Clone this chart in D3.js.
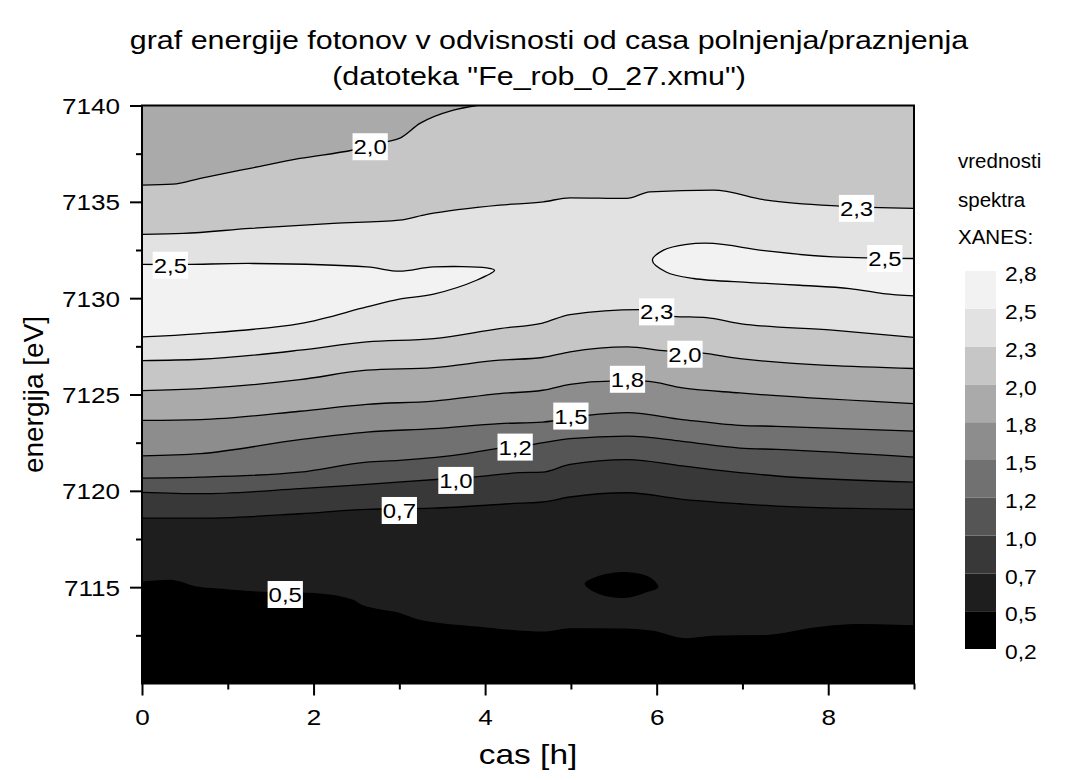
<!DOCTYPE html>
<html>
<head>
<meta charset="utf-8">
<script src="https://cdn.jsdelivr.net/npm/d3@7"></script>
<style>
body { margin: 0; background: #fff; }
text { font-family: "Liberation Sans", Arial, sans-serif; fill: #000; }
</style>
</head>
<body>
<svg width="1073" height="780"></svg>
<script>
// contour levels (legend) and their shades
var levels = [0.2, 0.46, 0.72, 0.98, 1.24, 1.5, 1.76, 2.02, 2.28, 2.54, 2.8];
var levelLabels = ["0,2", "0,5", "0,7", "1,0", "1,2", "1,5", "1,8", "2,0", "2,3", "2,5", "2,8"];
var shades = ["#000000", "#1e1e1e", "#383838", "#555555", "#717171",
              "#8d8d8d", "#aaaaaa", "#c6c6c6", "#e2e2e2", "#f2f2f2"];

var xTicks = [0, 2, 4, 6, 8],
    xMinor = [1, 3, 5, 7, 9],
    yTicks = [7115, 7120, 7125, 7130, 7135, 7140],
    yMinor = [7112.5, 7117.5, 7122.5, 7127.5, 7132.5, 7137.5];

// contour lines: [cas (h), energija (eV)]
var line046 = [[0,7115.26],[0.33,7115.35],[0.64,7115.0],[0.99,7114.86],[1.34,7114.74],[2.0,7114.66],
  [2.46,7114.31],[2.56,7114.05],[3.01,7113.62],[3.24,7113.27],[3.98,7112.89],[4.68,7112.66],
  [4.99,7112.84],[5.65,7112.82],[5.96,7112.70],[6.33,7112.32],[6.66,7112.45],[7.28,7112.49],
  [7.86,7112.89],[8.33,7113.06],[9,7112.99]];
var line072 = [[0,7118.58],[0.68,7118.58],[1.84,7118.81],[2.62,7119.04],[3.39,7119.10],[4.41,7119.36],
  [4.67,7119.42],[4.99,7119.68],[5.66,7119.90],[6.30,7119.56],[6.97,7119.33],[7.40,7119.21],[9,7119.04]];
var line098 = [[0,7119.92],[0.68,7119.85],[1.84,7120.11],[2.62,7120.34],[3.47,7120.6],[3.85,7120.71],
  [4.41,7120.94],[4.67,7120.97],[4.99,7121.37],[5.66,7121.62],[6.30,7121.29],[6.97,7120.94],
  [7.40,7120.77],[9,7120.45]];
var line124 = [[0,7120.66],[0.68,7120.71],[1.84,7120.97],[2.62,7121.49],[3.0,7121.58],[3.78,7121.93],
  [4.13,7122.19],[4.53,7122.40],[4.99,7122.71],[5.66,7122.84],[6.30,7122.57],[6.97,7122.22],
  [7.40,7122.15],[9,7121.75]];
var line150 = [[0,7121.81],[0.68,7121.93],[1.84,7122.66],[2.62,7123.05],[3.40,7123.23],[4.17,7123.49],
  [4.67,7123.57],[5.19,7123.92],[5.66,7124.06],[6.30,7123.70],[6.97,7123.40],[7.40,7123.35],[9,7123.10]];
var line176 = [[0,7123.66],[0.68,7123.70],[1.84,7124.13],[2.62,7124.49],[3.40,7124.66],[4.17,7125.05],
  [4.67,7125.22],[4.99,7125.53],[5.47,7125.69],[5.86,7125.69],[6.30,7125.34],[6.97,7125.08],[9,7124.53]];
var line202 = [[0,7125.20],[0.68,7125.31],[1.84,7125.77],[2.62,7126.26],[3.40,7126.40],[4.17,7126.78],
  [4.67,7126.92],[4.99,7127.21],[5.66,7127.47],[6.11,7127.26],[6.52,7127.16],[6.97,7126.86],[9,7126.35]];
var line228 = [[0,7126.76],[0.68,7126.83],[1.84,7127.30],[2.62,7127.73],[3.40,7127.90],[4.17,7128.42],
  [4.67,7128.71],[4.99,7129.15],[5.80,7129.41],[6.19,7129.06],[6.58,7128.99],[6.97,7128.68],
  [8.05,7128.34],[9,7127.96]];
var line228up = [[0,7133.31],[0.48,7133.36],[1.26,7133.62],[2.23,7133.88],[3.0,7134.05],[3.32,7134.35],
  [4.17,7134.83],[4.68,7135.0],[4.99,7135.21],[5.65,7135.18],[5.92,7135.52],[6.66,7135.61],
  [7.28,7135.09],[8.13,7134.78],[9,7134.66]];
var line202up = [[0,7135.87],[0.36,7135.92],[0.68,7136.22],[1.26,7136.74],[1.84,7137.25],[2.46,7137.69],
  [2.85,7138.12],[3.0,7138.29],[3.24,7139.07],[3.63,7139.76],[3.90,7140]];
// closed / edge islands
var islandLeft254 = [[0,7127.99],[0.68,7128.16],[1.84,7128.68],[2.62,7129.55],[3.0,7129.95],[3.40,7130.21],
  [3.90,7130.93],[4.11,7131.45],[4.02,7131.57],[3.40,7131.62],[3.0,7131.40],[2.62,7131.62],
  [1.30,7131.80],[0.52,7131.75],[0,7131.75]];
var islandRight254 = [[9,7130.12],[8.64,7130.24],[8.25,7130.50],[7.67,7130.67],[7.09,7130.81],[6.43,7131.02],
  [6.11,7131.36],[5.95,7131.97],[6.08,7132.49],[6.35,7132.79],[6.66,7132.84],[7.28,7132.45],
  [8.06,7132.14],[9,7132.06]];
var islandBlack = [[5.16,7115.18],[5.34,7115.61],[5.67,7115.78],[5.92,7115.52],[6.02,7115.0],
  [5.88,7114.74],[5.65,7114.45],[5.34,7114.62]];

// contour labels
var labelText   = ["2,0", "2,3", "2,5", "2,5", "2,3", "2,0", "1,8", "1,5", "1,2", "1,0", "0,7", "0,5"];
var labelCas    = [2.66, 8.33, 0.33, 8.66, 6.0, 6.33, 5.66, 5.0, 4.35, 3.66, 3.0, 1.67];
var labelEnergy = [7137.86, 7134.66, 7131.71, 7132.06, 7129.29, 7127.09, 7125.79, 7123.88, 7122.27,
                   7120.54, 7118.98, 7114.62];

var svg = d3.select("svg"),
    margin = {top: 105.5, right: 159, bottom: 96.5, left: 142},
    width = 1073 - margin.left - margin.right,
    height = 780 - margin.top - margin.bottom,
    g = svg.append("g").attr("transform", "translate(" + margin.left + "," + margin.top + ")");

var x = d3.scaleLinear().domain([0, 9]).range([0, width]),
    y = d3.scaleLinear().domain([7110, 7140]).range([height, 0]);

// stretched text helper (the original fonts are wider than Arial)
function stext(sel, px, py, str, size, anchor, sx) {
  return sel.append("text")
    .attr("transform", "translate(" + px + "," + py + ") scale(" + sx + ",1)")
    .attr("font-size", size)
    .attr("text-anchor", anchor)
    .text(str);
}

svg.append("clipPath").attr("id", "plotclip")
  .append("rect").attr("width", width).attr("height", height);

var plot = g.append("g").attr("clip-path", "url(#plotclip)");

var above = d3.area()
    .curve(d3.curveMonotoneX)
    .x(function(d) { return x(d[0]); })
    .y0(0)
    .y1(function(d) { return y(d[1]); });

var line = d3.line()
    .curve(d3.curveMonotoneX)
    .x(function(d) { return x(d[0]); })
    .y(function(d) { return y(d[1]); });

var loop = d3.line()
    .curve(d3.curveCatmullRom)
    .x(function(d) { return x(d[0]); })
    .y(function(d) { return y(d[1]); });

var closedLoop = d3.line()
    .curve(d3.curveCatmullRomClosed)
    .x(function(d) { return x(d[0]); })
    .y(function(d) { return y(d[1]); });

plot.append("rect").attr("width", width).attr("height", height).attr("fill", shades[0]);

plot.append("path").attr("d", above(line046)).attr("fill", shades[1]);
plot.append("path").attr("d", closedLoop(islandBlack)).attr("fill", shades[0]);

var lowerLines = [line072, line098, line124, line150, line176, line202, line228];
lowerLines.forEach(function(l, i) {
  plot.append("path").attr("d", above(l)).attr("fill", shades[i + 2]);
});

plot.append("path").attr("d", loop(islandLeft254)).attr("fill", shades[9]);
plot.append("path").attr("d", loop(islandRight254)).attr("fill", shades[9]);

plot.append("path").attr("d", above(line228up)).attr("fill", shades[7]);
plot.append("path").attr("d", above(line202up)).attr("fill", shades[6]);

// contour strokes
var strokes = plot.append("g")
    .attr("fill", "none")
    .attr("stroke", "#000")
    .attr("stroke-width", 1.3);

[line046, line072, line098, line124, line150, line176, line202, line228, line228up, line202up]
  .forEach(function(l) { strokes.append("path").attr("d", line(l)); });
strokes.append("path").attr("d", loop(islandLeft254));
strokes.append("path").attr("d", loop(islandRight254));

// contour labels
labelText.forEach(function(t, i) {
  var lx = x(labelCas[i]), ly = y(labelEnergy[i]);
  var lab = g.append("g");
  var r = lab.append("rect").attr("fill", "#fff");
  var tx = stext(lab, lx, ly + 7.5, t, 21, "middle", 1.14);
  var w = tx.node().getComputedTextLength() * 1.14 + 2;
  r.attr("x", lx - w / 2).attr("y", ly - 13.5).attr("width", w).attr("height", 27);
});

// axes
var yAxis = g.append("g").call(d3.axisLeft(y).tickValues(yTicks).tickSize(12).tickFormat(d3.format("d")));
var yAxisMinor = g.append("g").call(d3.axisLeft(y).tickValues(yMinor).tickSize(6).tickFormat(""));
var xAxis = g.append("g").attr("transform", "translate(0," + height + ")")
    .call(d3.axisBottom(x).tickValues(xTicks).tickSize(12).tickFormat(d3.format("d")));
var xAxisMinor = g.append("g").attr("transform", "translate(0," + height + ")")
    .call(d3.axisBottom(x).tickValues(xMinor).tickSize(6).tickFormat(""));

[yAxis, yAxisMinor, xAxis, xAxisMinor].forEach(function(a) {
  a.select(".domain").remove();
  a.selectAll("line").attr("stroke-width", 2);
  a.attr("font-family", null).attr("font-size", 22.5);
});
yAxis.selectAll("text").attr("x", null).attr("dy", null)
  .attr("transform", "translate(-22,8) scale(1.16,1)");
xAxis.selectAll("text").attr("y", null).attr("dy", null)
  .attr("transform", "translate(0,41) scale(1.16,1)");

g.append("rect")
  .attr("width", width).attr("height", height)
  .attr("fill", "none").attr("stroke", "#000").attr("stroke-width", 2);

// titles
stext(svg, 549, 49, "graf energije fotonov v odvisnosti od casa polnjenja/praznjenja", 26, "middle", 1.17);
stext(svg, 539, 85, "(datoteka \"Fe_rob_0_27.xmu\")", 26, "middle", 1.17);
stext(svg, margin.left + width / 2, 764, "cas [h]", 27, "middle", 1.24);
svg.append("text")
  .attr("transform", "translate(43," + (margin.top + height / 2) + ") rotate(-90)")
  .attr("font-size", 28)
  .attr("text-anchor", "middle")
  .text("energija [eV]");

// legend
var leg = svg.append("g");
stext(leg, 958, 168, "vrednosti", 20.5, "start", 1.0);
stext(leg, 958, 206.5, "spektra", 20.5, "start", 1.0);
stext(leg, 958, 244, "XANES:", 20.5, "start", 1.0);

var ly = d3.scaleLinear().domain([0, shades.length]).range([649, 271]);
leg.selectAll(".box")
  .data(shades)
  .enter().append("rect")
    .attr("class", "box")
    .attr("x", 965)
    .attr("y", function(d, i) { return ly(i + 1); })
    .attr("width", 31)
    .attr("height", function(d, i) { return ly(i) - ly(i + 1); })
    .attr("fill", function(d) { return d; });

levelLabels.forEach(function(t, i) {
  stext(leg, 1005, ly(i) + 3 + 7.2, t, 20, "start", 1.14);
});
</script>
</body>
</html>
